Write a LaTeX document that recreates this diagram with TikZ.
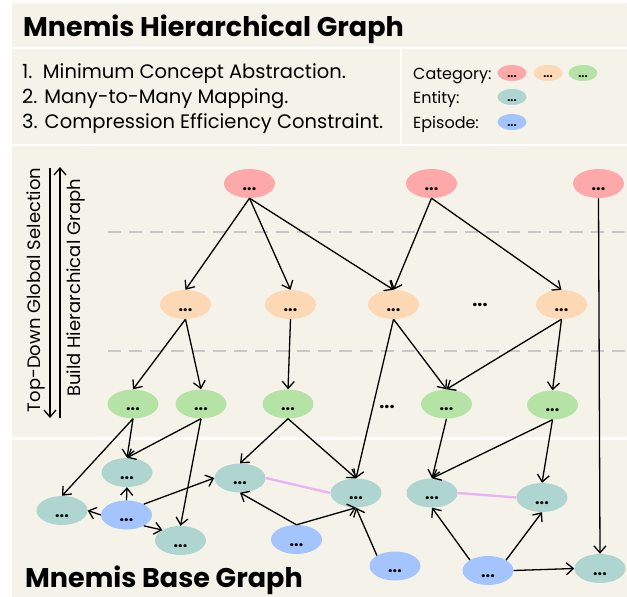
\documentclass[tikz,border=0pt]{standalone}
\usepackage{fontspec}
\setmainfont{Poppins}
\usetikzlibrary{arrows.meta,shapes.geometric}
\definecolor{bgc}{HTML}{F5F3E9}
\definecolor{pinkc}{HTML}{FDA9AA}
\definecolor{orangec}{HTML}{FDD8B5}
\definecolor{greenc}{HTML}{B5E3A6}
\definecolor{tealc}{HTML}{AED5CF}
\definecolor{bluec}{HTML}{A3C4FD}
\definecolor{lavc}{HTML}{E8B4F5}
\definecolor{dashc}{HTML}{C8C8C8}
\begin{document}
\begin{tikzpicture}[x=1pt,y=-1pt,
  nd/.style={ellipse, minimum width=51pt, minimum height=29pt, inner sep=0pt,
    text height=13pt, text depth=0pt, font=\fontsize{16}{16}\selectfont\bfseries},
  lg/.style={ellipse, minimum width=29pt, minimum height=16pt, inner sep=0pt,
    text height=8pt, text depth=0pt, font=\fontsize{11}{11}\selectfont\bfseries},
  cat1/.style={nd, fill=pinkc}, cat2/.style={nd, fill=orangec}, cat3/.style={nd, fill=greenc},
  ent/.style={nd, fill=tealc}, epi/.style={nd, fill=bluec},
  arr/.style={-{Straight Barb[length=7pt,width=12pt]}, line width=1.3pt},
  lav/.style={lavc, line width=2.4pt},
  sep/.style={dashc, line width=2.4pt, dash pattern=on 13pt off 8pt},
  ttl/.style={font=\fontsize{27}{27}\selectfont\bfseries, anchor=base west, inner sep=0pt},
  txt/.style={font=\fontsize{19.5}{19.5}\selectfont, anchor=base west, inner sep=0pt},
  lgt/.style={font=\fontsize{16}{16}\selectfont, anchor=base west, inner sep=0pt},
  vt/.style={rotate=90, font=\fontsize{18}{18}\selectfont, inner sep=0pt},
  bigdots/.style={font=\fontsize{18}{18}\selectfont\bfseries, inner sep=0pt}
]
\useasboundingbox (0,0) rectangle (627,597);
\fill[white] (0,0) rectangle (627,597);
\fill[bgc] (12,3) rectangle (627,47);
\fill[bgc] (12,49) rectangle (400,144);
\fill[bgc] (402,49) rectangle (627,144);
\fill[bgc] (12,146) rectangle (627,437);
\fill[bgc] (12,440) rectangle (627,597);

% titles
\node[ttl] (title) at (23,36) {Mnemis Hierarchical Graph};
\node[ttl] (btitle) at (25,587) {Mnemis Base Graph};

% list
\node[txt] (l1) at (22,78) {1.\ \ Minimum Concept Abstraction.};
\node[txt] (l2) at (22,103) {2. Many-to-Many Mapping.};
\node[txt] (l3) at (22,128) {3. Compression Efficiency Constraint.};

% legend
\node[lgt] (lc) at (413,79) {Category:};
\node[lgt] (le) at (413,103) {Entity:};
\node[lgt] (lp) at (413,128) {Episode:};
\node[lg, fill=pinkc] (lg1) at (512,73) {...};
\node[lg, fill=orangec] (lg2) at (548,73) {...};
\node[lg, fill=greenc] (lg3) at (583,73) {...};
\node[lg, fill=tealc] (lg4) at (512,97) {...};
\node[lg, fill=bluec] (lg5) at (512,122) {...};

% side arrows and labels
\node[vt] (tdgs) at (36,290) {Top-Down Global Selection};
\node[vt] (bhg) at (76,288) {Build Hierarchical Graph};
\coordinate (d1) at (50,168); \coordinate (d2) at (50,418);
\coordinate (u1) at (60,418); \coordinate (u2) at (60,167);
\draw[arr] (d1) -- (d2);
\draw[arr] (u1) -- (u2);

% separators
\coordinate (s1a) at (108,232); \coordinate (s1b) at (627,232);
\coordinate (s2a) at (108,351); \coordinate (s2b) at (627,351);
\draw[sep] (s1a) -- (s1b);
\draw[sep] (s2a) -- (s2b);

% category level 1
\node[cat1] (A1) at (249.5,183.5) {...};
\node[cat1] (A2) at (431.5,183.5) {...};
\node[cat1] (A3) at (598.5,183.5) {...};
% category level 2
\node[cat2] (B1) at (185.5,304.5) {...};
\node[cat2] (B2) at (290.5,304.5) {...};
\node[cat2] (B3) at (393.5,304.5) {...};
\node[cat2] (B4) at (561.5,304.5) {...};
\node[bigdots] (dd1) at (480,305) {...};
% category level 3
\node[cat3] (G1) at (133,404) {...};
\node[cat3] (G2) at (201,404) {...};
\node[cat3] (G3) at (288,404) {...};
\node[cat3] (G4) at (446.5,404) {...};
\node[cat3] (G5) at (552.5,405) {...};
\node[bigdots] (dd2) at (387,407) {...};
% entities
\node[ent] (E1) at (127,472.5) {...};
\node[ent] (E2) at (62,510.5) {...};
\node[ent] (E3) at (180.5,540.5) {...};
\node[ent] (E4) at (240,478) {...};
\node[ent] (E5) at (356,493) {...};
\node[ent] (E6) at (432,493) {...};
\node[ent] (E7) at (542,497.5) {...};
\node[ent] (E8) at (600,568.5) {...};
% episodes
\node[epi] (P1) at (126.5,515) {...};
\node[epi] (P2) at (296.5,539.5) {...};
\node[epi] (P3) at (395,566) {...};
\node[epi] (P4) at (488,570.5) {...};

% lavender relations
\draw[lav] (E4.east) -- (E5.west);
\draw[lav] (E6.east) -- (E7.west);

% hierarchy edges
\draw[arr] (A1.south) -- (B1.north);
\draw[arr] (A1.south) -- (B2.north);
\draw[arr] (A1.south) -- (B3.north);
\draw[arr] (A2.south) -- (B3.north);
\draw[arr] (A2.south) -- (B4.north);
\draw[arr] (A3.south) -- (E8.north);
\draw[arr] (B1.south) -- (G1.north);
\draw[arr] (B1.south) -- (G2.north);
\draw[arr] (B2.south) -- (G3.north);
\draw[arr] (B3.south) -- (G4.north);
\draw[arr] (B3.south) -- (E5.north);
\draw[arr] (B4.south) -- (G4.north);
\draw[arr] (B4.south) -- (G5.north);
\draw[arr] (G1.south) -- (E2.north);
\draw[arr] (G1.south) -- (E1.north);
\draw[arr] (G2.south) -- (E1.north);
\draw[arr] (G2.south) -- (E3.north);
\draw[arr] (G3.south) -- (E4.north);
\draw[arr] (G3.south) -- (E5.north);
\draw[arr] (G4.south) -- (E6.north);
\draw[arr] (G5.south) -- (E6.north);
\draw[arr] (G5.south) -- (E7.north);

% episode edges
\draw[arr] (P1.north) -- (E1.south);
\draw[arr] (P1.west) -- (E2.east);
\draw[arr] (P1.-32) -- (E3.150);
\draw[arr] (P1.32) -- (E4.west);
\draw[arr] (P2.north) -- (E4.south);
\draw[arr] (P2.north) -- (E5.south);
\draw[arr] (P3.150) -- (E5.south);
\draw[arr] (P4.150) -- (E6.south);
\draw[arr] (P4.30) -- (E7.south);
\draw[arr] (P4.east) -- (E8.west);
\end{tikzpicture}
\end{document}
